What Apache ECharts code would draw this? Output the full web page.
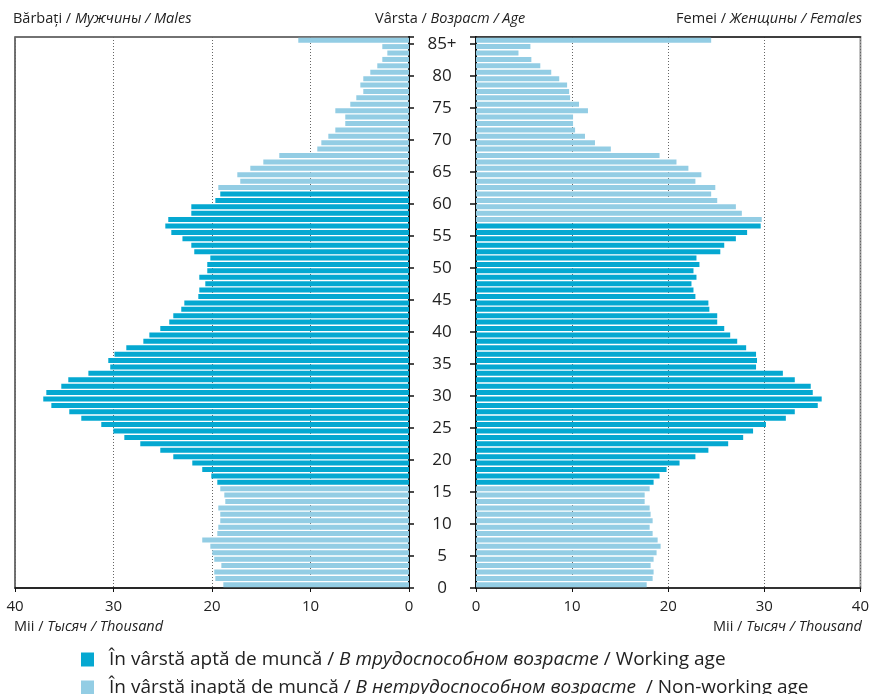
<!DOCTYPE html>
<html>
<head>
<meta charset="utf-8">
<script src="https://cdn.jsdelivr.net/npm/echarts@6/dist/echarts.min.js"></script>
<style>
html,body{margin:0;padding:0;background:#fff;}
#chart{width:872px;height:694px;}
</style>
</head>
<body>
<div id="chart"></div>
<script>
const ages = ['0','1','2','3','4','5','6','7','8','9','10','11','12','13','14','15','16','17','18','19',
'20','21','22','23','24','25','26','27','28','29','30','31','32','33','34','35','36','37','38','39',
'40','41','42','43','44','45','46','47','48','49','50','51','52','53','54','55','56','57','58','59',
'60','61','62','63','64','65','66','67','68','69','70','71','72','73','74','75','76','77','78','79',
'80','81','82','83','84','85+'];

// thousands, age 0 .. 85+
const males = [18.85,19.66,19.77,19.05,19.77,19.97,20.17,20.99,19.46,19.36,
19.16,19.16,19.36,18.65,18.75,19.16,19.46,20.07,20.99,22.0,
23.93,25.25,27.28,28.9,30.02,31.24,33.27,34.49,36.31,37.13,
36.82,35.3,34.59,32.55,30.33,30.53,29.9,28.7,26.97,26.36,
25.25,24.34,23.93,23.12,22.81,21.39,21.29,20.68,21.29,20.48,
20.48,20.17,21.8,22.1,23.0,24.13,24.74,24.44,22.1,22.1,
19.66,19.16,19.36,17.13,17.43,16.11,14.79,13.17,9.31,8.9,
8.19,7.48,6.47,6.47,7.48,5.96,5.35,4.64,4.94,4.64,
3.93,3.22,2.71,2.2,2.71,11.24];

const females = [17.76,18.38,18.48,18.17,18.48,18.79,19.21,18.9,18.38,18.07,
18.38,18.17,18.07,17.55,17.55,18.07,18.48,19.1,19.83,21.18,
22.83,24.18,26.24,27.8,28.83,30.17,32.24,33.17,35.56,35.97,
35.04,34.83,33.17,31.93,29.14,29.24,29.14,28.11,27.18,26.45,
25.83,25.1,25.1,24.28,24.18,22.83,22.63,22.42,22.94,22.63,
23.25,22.94,25.42,25.83,27.04,28.21,29.62,29.73,27.66,27.04,
25.1,24.47,24.9,22.83,23.45,22.1,20.86,19.1,14.03,12.38,
11.34,10.31,10.1,10.1,11.65,10.72,9.79,9.69,9.48,8.66,
7.83,6.69,5.76,4.42,5.66,24.47];

// working age ranges (inclusive)
const maleWorkingAge = [16, 61];
const femaleWorkingAge = [16, 56];

const nameWork = 'În vârstă aptă de muncă';
const nameNon = 'În vârstă inaptă de muncă';
const colorWork = '#05a8d1';
const colorNon = '#93cde4';

function split(values, range, working) {
  return values.map((v, i) => {
    const isW = i >= range[0] && i <= range[1];
    return (isW === working) ? v : null;
  });
}

const FONT = "'Open Sans', 'Noto Sans', sans-serif";
const richHead = {
  r: {fontSize: 14.5, color: '#222', fontFamily: FONT, fontWeight: 'normal'},
  i: {fontSize: 14.5, color: '#222', fontStyle: 'italic', fontFamily: FONT, fontWeight: 'normal'}
};

const chart = echarts.init(document.getElementById('chart'), null, {renderer: 'canvas'});

const splitLine = {show: true, lineStyle: {color: '#666', type: [1, 2], width: 1}};

const option = {
  backgroundColor: '#fff',
  animation: false,
  textStyle: {fontFamily: FONT},
  title: [
    {left: 13, top: 11, padding: 0, text: '{r|Bărbați / }{i|Мужчины / Males}', textStyle: {fontWeight: 'normal', rich: richHead}},
    {left: 375, top: 11, padding: 0, text: '{r|Vârsta / }{i|Возраст / Age}', textStyle: {fontWeight: 'normal', rich: richHead}},
    {right: 10, top: 11, padding: 0, text: '{r|Femei / }{i|Женщины / Females}', textStyle: {fontWeight: 'normal', rich: richHead}},
    {left: 14, top: 619, padding: 0, text: '{r|Mii / }{i|Тысяч / Thousand}', textStyle: {fontWeight: 'normal', rich: richHead}},
    {right: 10, top: 619, padding: 0, text: '{r|Mii / }{i|Тысяч / Thousand}', textStyle: {fontWeight: 'normal', rich: richHead}}
  ],
  legend: {
    orient: 'vertical',
    left: 81,
    top: 650,
    height: 100,
    padding: 0,
    itemWidth: 13,
    itemHeight: 14,
    itemGap: 9,
    icon: 'rect',
    data: [nameWork, nameNon],
    formatter: function (name) {
      if (name === nameWork) return '{r|În vârstă aptă de muncă / }{i|В трудоспособном возрасте}{r| / Working age}';
      return '{r|În vârstă inaptă de muncă / }{i|В нетрудоспособном возрасте}{r|  / Non-working age}';
    },
    textStyle: {
      padding: [0, 0, 0, 10],
      rich: {
        r: {fontSize: 19, color: '#222', fontFamily: FONT, lineHeight: 18},
        i: {fontSize: 19, color: '#222', fontStyle: 'italic', fontFamily: FONT, lineHeight: 18}
      }
    }
  },
  grid: [
    {left: 15, top: 37, width: 394, height: 551, show: true, borderColor: '#444', borderWidth: 1.5},
    {left: 476, top: 37, width: 387, height: 551, show: true, borderColor: '#999', borderWidth: 2}
  ],
  xAxis: [
    {type: 'value', gridIndex: 0, min: 0, max: 40, interval: 10, inverse: true,
      axisLine: {show: true, lineStyle: {color: '#111', width: 1.5}},
      axisTick: {show: true, length: 4, lineStyle: {color: '#111'}},
      axisLabel: {fontSize: 15, color: '#222', margin: 11, fontFamily: FONT},
      splitLine: splitLine},
    {type: 'value', gridIndex: 1, min: 0, max: 40, interval: 10,
      axisLine: {show: true, lineStyle: {color: '#111', width: 1.5}},
      axisTick: {show: true, length: 4, lineStyle: {color: '#111'}},
      axisLabel: {fontSize: 15, color: '#222', margin: 11, fontFamily: FONT},
      splitLine: splitLine},
    // top frame line of the right panel
    {type: 'value', gridIndex: 1, min: 0, max: 40, position: 'top',
      axisLine: {show: true, lineStyle: {color: '#222', width: 1.5}},
      axisTick: {show: false}, axisLabel: {show: false}, splitLine: {show: false}}
  ],
  yAxis: [
    {type: 'category', gridIndex: 0, data: ages, position: 'right',
      axisLine: {show: true, lineStyle: {color: '#111', width: 2}},
      axisTick: {show: true, interval: 4, length: 5, lineStyle: {color: '#111', width: 1.5}},
      axisLabel: {show: false},
      splitLine: {show: false}},
    {type: 'category', gridIndex: 1, data: ages, position: 'left',
      axisLine: {show: true, lineStyle: {color: '#111', width: 2}},
      axisTick: {show: true, interval: 4, length: 6, lineStyle: {color: '#111', width: 1.5}},
      axisLabel: {show: true, interval: 4, align: 'center', margin: 34,
        formatter: function (v) { return '{a|' + v + '}'; },
        rich: {a: {fontSize: 17, color: '#222', fontFamily: FONT, lineHeight: 18, padding: [7, 0, 0, 0], align: 'center'}}},
      splitLine: {show: false}}
  ],
  series: [
    {name: nameWork, type: 'bar', xAxisIndex: 0, yAxisIndex: 0, stack: 'm', barWidth: 5,
      itemStyle: {color: colorWork}, data: split(males, maleWorkingAge, true)},
    {name: nameNon, type: 'bar', xAxisIndex: 0, yAxisIndex: 0, stack: 'm', barWidth: 5,
      itemStyle: {color: colorNon}, data: split(males, maleWorkingAge, false)},
    {name: nameWork, type: 'bar', xAxisIndex: 1, yAxisIndex: 1, stack: 'f', barWidth: 5,
      itemStyle: {color: colorWork}, data: split(females, femaleWorkingAge, true)},
    {name: nameNon, type: 'bar', xAxisIndex: 1, yAxisIndex: 1, stack: 'f', barWidth: 5,
      itemStyle: {color: colorNon}, data: split(females, femaleWorkingAge, false)}
  ]
};
chart.setOption(option);
</script>
</body>
</html>
